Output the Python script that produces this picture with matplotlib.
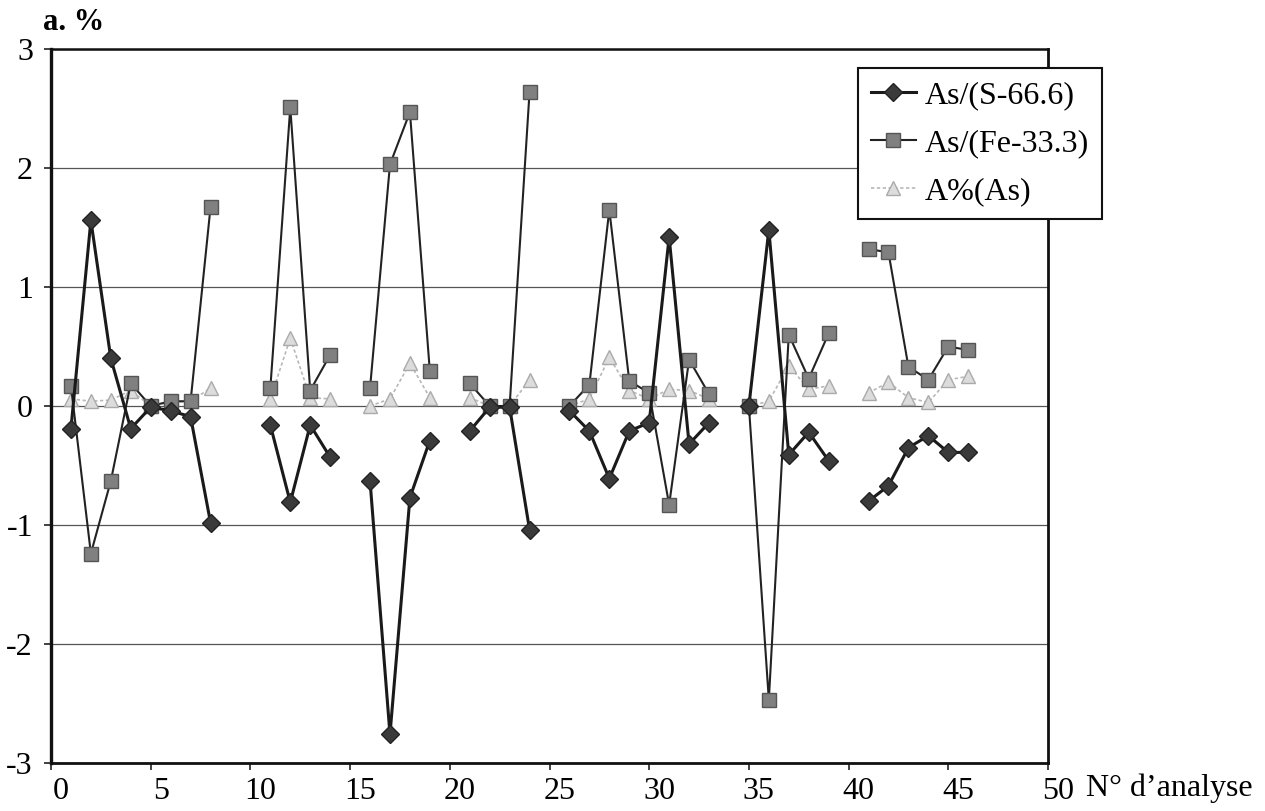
import numpy as np
import matplotlib
matplotlib.use("Agg")
import matplotlib.pyplot as plt
import matplotlib.transforms as mtransforms

nan = np.nan
x = list(range(1, 47))

# As/(S-66.6)  (diamonds)
s_as_s = [-0.19, 1.56, 0.40, -0.19, -0.01, -0.04, -0.09, -0.98, nan, nan,
          -0.16, -0.81, -0.16, -0.43, nan, -0.63, -2.76, -0.77, -0.29, nan,
          -0.21, -0.01, -0.01, -1.04, nan, -0.04, -0.21, -0.61, -0.21, -0.14,
          1.42, -0.32, -0.14, nan, 0.0, 1.48, -0.41, -0.22, -0.46, nan,
          -0.80, -0.67, -0.35, -0.25, -0.39, -0.39]

# As/(Fe-33.3)  (squares)
s_as_fe = [0.17, -1.24, -0.63, 0.19, 0.0, 0.04, 0.04, 1.67, nan, nan,
           0.15, 2.51, 0.13, 0.43, nan, 0.15, 2.03, 2.47, 0.29, nan,
           0.19, 0.0, 0.0, 2.64, nan, 0.0, 0.18, 1.65, 0.21, 0.11,
           -0.83, 0.39, 0.10, nan, 0.0, -2.47, 0.60, 0.23, 0.61, nan,
           1.32, 1.29, 0.33, 0.22, 0.50, 0.47]

# A%(As)  (triangles)
s_a_as = [0.06, 0.04, 0.05, 0.13, 0.0, 0.03, 0.04, 0.15, nan, nan,
          0.06, 0.57, 0.07, 0.06, nan, 0.0, 0.06, 0.36, 0.07, nan,
          0.07, 0.0, 0.0, 0.22, nan, 0.0, 0.06, 0.41, 0.13, 0.06,
          0.14, 0.13, 0.06, nan, 0.0, 0.04, 0.34, 0.14, 0.17, nan,
          0.11, 0.20, 0.07, 0.03, 0.22, 0.25]

labels = ["As/(S-66.6)", "As/(Fe-33.3)", "A%(As)"]
xticks = [0, 5, 10, 15, 20, 25, 30, 35, 40, 45, 50]
yticks = [-3, -2, -1, 0, 1, 2, 3]

plt.rcParams['font.family'] = ['Liberation Serif', 'DejaVu Serif']
plt.rcParams['axes.unicode_minus'] = False

fig = plt.figure(figsize=(12.65, 8.11), dpi=100)
ax = fig.add_axes([51/1265, 48/811, 997/1265, 714/811])

for yv in yticks:
    ax.axhline(yv, color='#555555', lw=0.9, zorder=1)

ax.plot(x, s_a_as, color='#b8b8b8', lw=1.2, ls=(0, (2, 1.5)), marker='^',
        ms=10, mfc='#dcdcdc', mec='#aaaaaa', mew=1.0, label=labels[2], zorder=2)
ax.plot(x, s_as_fe, color='#222222', lw=1.5, marker='s', ms=10,
        mfc='#808080', mec='#555555', mew=1.0, label=labels[1], zorder=3)
ax.plot(x, s_as_s, color='#1a1a1a', lw=2.2, marker='D', ms=9,
        mfc='#3a3a3a', mec='#222222', mew=1.0, label=labels[0], zorder=4)

ax.set_xlim(0, 50)
ax.set_ylim(-3, 3)
ax.set_xticks(xticks)
ax.set_yticks(yticks)
ax.tick_params(axis='both', labelsize=23, length=5, width=1.2, direction='out',
               color='#222222')
ax.tick_params(axis='x', pad=5)
ax.tick_params(axis='y', pad=8)
shift = mtransforms.ScaledTranslation(10/100, 0, fig.dpi_scale_trans)
for lab in ax.get_xticklabels():
    lab.set_transform(lab.get_transform() + shift)

for sp in ax.spines.values():
    sp.set_color('#111111')
ax.spines['left'].set_linewidth(2.4)
ax.spines['bottom'].set_linewidth(2.0)
ax.spines['top'].set_linewidth(1.8)
ax.spines['right'].set_linewidth(2.0)

handles, labs = ax.get_legend_handles_labels()
order = [2, 1, 0]
leg = ax.legend([handles[i] for i in order], [labs[i] for i in order],
                loc='upper left', bbox_to_anchor=(807/997, 1 - 19/714),
                fontsize=23, frameon=True, fancybox=False, edgecolor='#111111',
                framealpha=1, handlelength=1.4, handletextpad=0.3,
                borderpad=0.4, labelspacing=0.58, borderaxespad=0)
leg.get_frame().set_linewidth(1.5)
leg.set_zorder(10)

fig.text(43/1265, 1 - 22/811, "a. %", fontsize=22, fontweight='bold',
         ha='left', va='center')
fig.text(1086/1265, 1 - 788/811, "N° d\u2019analyse", fontsize=23,
         ha='left', va='center')

fig.savefig("out.png", dpi=100)
